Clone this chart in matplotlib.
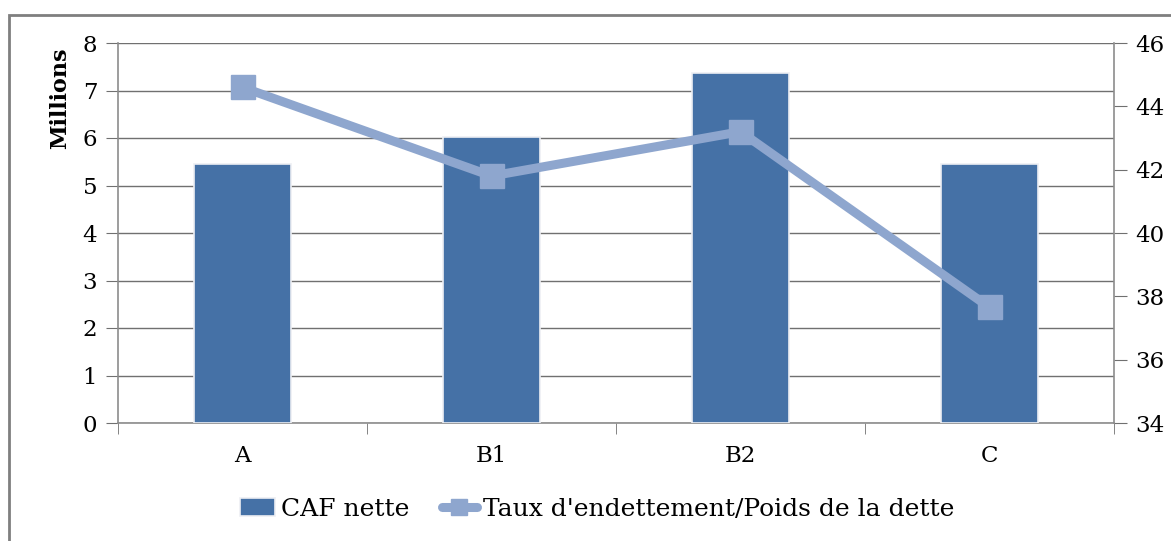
import matplotlib
matplotlib.use("Agg")
import matplotlib.pyplot as plt
from matplotlib.patches import Rectangle
import numpy as np

categories = ["A", "B1", "B2", "C"]
caf_nette = [5.45, 6.02, 7.37, 5.45]
taux = [44.6, 41.8, 43.2, 37.65]
left_ticks = [0, 1, 2, 3, 4, 5, 6, 7, 8]
right_ticks = [34, 36, 38, 40, 42, 44, 46]

bar_color = "#4571A6"
line_color = "#8EA6CE"
grid_color = "#707070"
font = "DejaVu Serif"

plt.rcParams["font.family"] = [font]

fig = plt.figure(figsize=(11.71, 5.41), dpi=100)
ax = fig.add_axes([118/1171, 1 - 423/541, (1114-118)/1171, (423-43)/541])

x = np.arange(len(categories))
ax.bar(x, caf_nette, width=0.39, color=bar_color, edgecolor="#EDEFF3", linewidth=1.2,
       zorder=3, label="CAF nette")
ax.set_xlim(-0.5, len(categories) - 0.5)
ax.set_ylim(0, 8)
ax.set_yticks(left_ticks)
ax.yaxis.grid(True, color=grid_color, linewidth=1.0)
ax.set_axisbelow(True)
ax.set_xticks(x)
ax.set_xticklabels(categories)
ax.set_xticks(np.arange(-0.5, len(categories)), minor=True)
ax.tick_params(axis="x", which="major", length=0, pad=16, labelsize=16.5)
ax.tick_params(axis="x", which="minor", length=8, color=grid_color, direction="out")
ax.tick_params(axis="y", length=9, color=grid_color, labelsize=16.5, pad=6)
for s in ["top", "right"]:
    ax.spines[s].set_visible(False)
for s in ["left", "bottom"]:
    ax.spines[s].set_color("#8C8C8C")
    ax.spines[s].set_linewidth(1.2)
fig.text(60/1171, 1 - 98/541, "Millions", rotation=90, fontsize=16, fontweight="bold",
         ha="center", va="center")

ax2 = ax.twinx()
ax2.plot(x, taux, color=line_color, linewidth=6.5, marker="s", markersize=17,
         markerfacecolor=line_color, markeredgecolor=line_color, zorder=5,
         solid_capstyle="round", label="Taux d'endettement/Poids de la dette")
ax2.set_ylim(34, 46)
ax2.set_yticks(right_ticks)
ax2.tick_params(axis="y", length=9, color=grid_color, labelsize=16.5, pad=6)
for s in ["top", "left", "bottom"]:
    ax2.spines[s].set_visible(False)
ax2.spines["right"].set_color("#8C8C8C")
ax2.spines["right"].set_linewidth(1.2)

h1, l1 = ax.get_legend_handles_labels()
h2, l2 = ax2.get_legend_handles_labels()
fig.legend(h1 + h2, l1 + l2, loc="center", bbox_to_anchor=(597/1171, 1 - 509/541),
           ncol=2, frameon=False, fontsize=18, handlelength=1.4, columnspacing=1.3,
           handletextpad=0.25, markerscale=0.7)

fig.patches.append(Rectangle((9/1171, -0.1), 1.2, 1 - 15/541 + 0.1, transform=fig.transFigure,
                             fill=False, edgecolor="#7F7F7F", linewidth=2, zorder=0))

fig.savefig("out.png", dpi=100)
